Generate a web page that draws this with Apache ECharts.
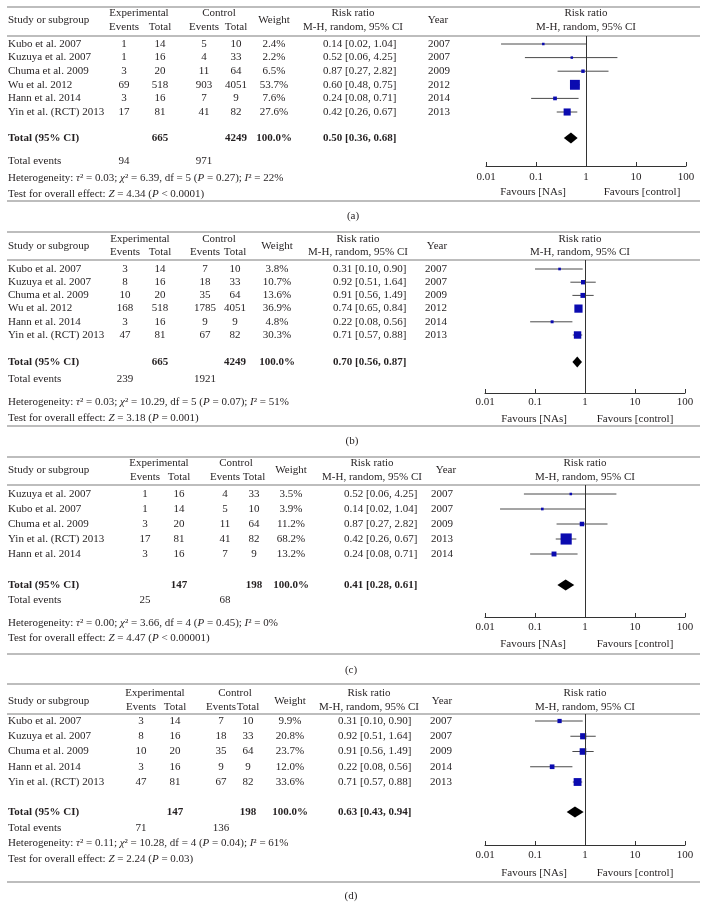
<!DOCTYPE html>
<html>
<head>
<meta charset="utf-8">
<script src="https://cdn.jsdelivr.net/npm/echarts@6/dist/echarts.min.js"></script>
<style>html,body{margin:0;background:#fff}#main{width:702px;height:919px}</style>
</head>
<body>
<div id="main"></div>
<script>
var tickLabels=['0.01','0.1','1','10','100'];

// (a)
var studiesA=['Kubo et al. 2007','Kuzuya et al. 2007','Chuma et al. 2009','Wu et al. 2012','Hann et al. 2014','Yin et al. (RCT) 2013'];
var expEventsA=[1,1,3,69,3,17];
var expTotalA=[14,16,20,518,16,81];
var ctlEventsA=[5,4,11,903,7,41];
var ctlTotalA=[10,33,64,4051,9,82];
var weightA=[2.4,2.2,6.5,53.7,7.6,27.6];
var rrA=[0.14,0.52,0.87,0.60,0.24,0.42];
var loA=[0.02,0.06,0.27,0.48,0.08,0.26];
var hiA=[1.04,4.25,2.82,0.75,0.71,0.67];
var yearA=[2007,2007,2009,2012,2014,2013];
var totalA=[665,4249,0.50,0.36,0.68,94,971];
var hetA=['0.03','6.39',5,'0.27',22,'4.34','< 0.0001'];

// (b)
var studiesB=['Kubo et al. 2007','Kuzuya et al. 2007','Chuma et al. 2009','Wu et al. 2012','Hann et al. 2014','Yin et al. (RCT) 2013'];
var expEventsB=[3,8,10,168,3,47];
var expTotalB=[14,16,20,518,16,81];
var ctlEventsB=[7,18,35,1785,9,67];
var ctlTotalB=[10,33,64,4051,9,82];
var weightB=[3.8,10.7,13.6,36.9,4.8,30.3];
var rrB=[0.31,0.92,0.91,0.74,0.22,0.71];
var loB=[0.10,0.51,0.56,0.65,0.08,0.57];
var hiB=[0.90,1.64,1.49,0.84,0.56,0.88];
var yearB=[2007,2007,2009,2012,2014,2013];
var totalB=[665,4249,0.70,0.56,0.87,239,1921];
var hetB=['0.03','10.29',5,'0.07',51,'3.18','= 0.001'];

// (c)
var studiesC=['Kuzuya et al. 2007','Kubo et al. 2007','Chuma et al. 2009','Yin et al. (RCT) 2013','Hann et al. 2014'];
var expEventsC=[1,1,3,17,3];
var expTotalC=[16,14,20,81,16];
var ctlEventsC=[4,5,11,41,7];
var ctlTotalC=[33,10,64,82,9];
var weightC=[3.5,3.9,11.2,68.2,13.2];
var rrC=[0.52,0.14,0.87,0.42,0.24];
var loC=[0.06,0.02,0.27,0.26,0.08];
var hiC=[4.25,1.04,2.82,0.67,0.71];
var yearC=[2007,2007,2009,2013,2014];
var totalC=[147,198,0.41,0.28,0.61,25,68];
var hetC=['0.00','3.66',4,'0.45',0,'4.47','< 0.00001'];

// (d)
var studiesD=['Kubo et al. 2007','Kuzuya et al. 2007','Chuma et al. 2009','Hann et al. 2014','Yin et al. (RCT) 2013'];
var expEventsD=[3,8,10,3,47];
var expTotalD=[14,16,20,16,81];
var ctlEventsD=[7,18,35,9,67];
var ctlTotalD=[10,33,64,9,82];
var weightD=[9.9,20.8,23.7,12.0,33.6];
var rrD=[0.31,0.92,0.91,0.22,0.71];
var loD=[0.10,0.51,0.56,0.08,0.57];
var hiD=[0.90,1.64,1.49,0.56,0.88];
var yearD=[2007,2007,2009,2014,2013];
var totalD=[147,198,0.63,0.43,0.94,71,136];
var hetD=['0.11','10.28',4,'0.04',61,'2.24','= 0.03'];

var FONT='"Liberation Serif","DejaVu Serif",serif';
var FS=11;
var INK='#231f20';

// page layout of each panel (pixels)
var panels=[
  {name:'(a)',studies:studiesA,ee:expEventsA,et:expTotalA,ce:ctlEventsA,ct:ctlTotalA,w:weightA,rr:rrA,lo:loA,hi:hiA,yr:yearA,tot:totalA,het:hetA,
   L:{top:7,h1:13,h2:27,hm:20,gridTop:36,row0:44,step:13.6,totalY:138,evY:161,hetY:178,testY:194,bottom:201,labelY:216,axisY:166,tickGap:6,favY:192,plotLeft:486},
   C:{ee:124,et:160,eh:139,ce:204,ct:236,ch:219,w:274,rrh:353,rr:323,yr:428,yrh:438,ph:586,favL:533,favR:642,label:353}},
  {name:'(b)',studies:studiesB,ee:expEventsB,et:expTotalB,ce:ctlEventsB,ct:ctlTotalB,w:weightB,rr:rrB,lo:loB,hi:hiB,yr:yearB,tot:totalB,het:hetB,
   L:{top:232,h1:239,h2:252,hm:246,gridTop:260,row0:269,step:13.2,totalY:362,evY:379,hetY:402,testY:418,bottom:426,labelY:441,axisY:393,tickGap:4,favY:419,plotLeft:485},
   C:{ee:125,et:160,eh:140,ce:205,ct:235,ch:219,w:277,rrh:358,rr:333,yr:425,yrh:437,ph:580,favL:534,favR:635,label:352}},
  {name:'(c)',studies:studiesC,ee:expEventsC,et:expTotalC,ce:ctlEventsC,ct:ctlTotalC,w:weightC,rr:rrC,lo:loC,hi:hiC,yr:yearC,tot:totalC,het:hetC,
   L:{top:457,h1:463,h2:477,hm:470,gridTop:485,row0:494,step:15,totalY:585,evY:600,hetY:623,testY:638,bottom:654,labelY:670,axisY:617,tickGap:5,favY:644,plotLeft:485},
   C:{ee:145,et:179,eh:159,ce:225,ct:254,ch:236,w:291,rrh:372,rr:344,yr:431,yrh:446,ph:585,favL:533,favR:635,label:351}},
  {name:'(d)',studies:studiesD,ee:expEventsD,et:expTotalD,ce:ctlEventsD,ct:ctlTotalD,w:weightD,rr:rrD,lo:loD,hi:hiD,yr:yearD,tot:totalD,het:hetD,
   L:{top:684,h1:693,h2:707,hm:701,gridTop:714,row0:721,step:15.25,totalY:812,evY:828,hetY:843,testY:859,bottom:882,labelY:896,axisY:845,tickGap:5,favY:873,plotLeft:485},
   C:{ee:141,et:175,eh:155,ce:221,ct:248,ch:235,w:290,rrh:369,rr:338,yr:430,yrh:442,ph:585,favL:534,favR:635,label:351}}
];

var graphics=[];
var richIt={i:{fontStyle:'italic',fontFamily:FONT,fontSize:FS,fill:INK,color:INK}};
function txt(s,x,y,align,bold){
  graphics.push({type:'text',silent:true,style:{text:String(s),x:x,y:y,fill:INK,
    font:(bold?'bold ':'')+FS+'px '+FONT,fontFamily:FONT,fontSize:FS,fontWeight:bold?'bold':'normal',
    align:align||'center',textAlign:align||'center',verticalAlign:'middle',textVerticalAlign:'middle',rich:richIt}});
}
function rule(y){
  graphics.push({type:'line',silent:true,shape:{x1:7,y1:y,x2:700,y2:y},style:{stroke:'#7c7c7c',lineWidth:1.2}});
}
function ci(r,l,h){return r.toFixed(2)+' ['+l.toFixed(2)+', '+h.toFixed(2)+']';}

var grids=[],xAxes=[],yAxes=[],series=[];

panels.forEach(function(p,k){
  var L=p.L,C=p.C;
  // rules
  rule(L.top);rule(L.gridTop);rule(L.bottom);
  // header
  txt('Study or subgroup',8,L.hm,'left');
  txt('Experimental',C.eh,L.h1);txt('Events',C.ee,L.h2);txt('Total',C.et,L.h2);
  txt('Control',C.ch,L.h1);txt('Events',C.ce,L.h2);txt('Total',C.ct,L.h2);
  txt('Weight',C.w,L.hm);
  txt('Risk ratio',C.rrh,L.h1);txt('M-H, random, 95% CI',C.rrh,L.h2);
  txt('Year',C.yrh,L.hm);
  txt('Risk ratio',C.ph,L.h1);txt('M-H, random, 95% CI',C.ph,L.h2);
  // study rows
  p.studies.forEach(function(s,i){
    var y=L.row0+i*L.step;
    txt(s,8,y,'left');
    txt(p.ee[i],C.ee,y);txt(p.et[i],C.et,y);
    txt(p.ce[i],C.ce,y);txt(p.ct[i],C.ct,y);
    txt(p.w[i].toFixed(1)+'%',C.w,y);
    txt(ci(p.rr[i],p.lo[i],p.hi[i]),C.rr,y,'left');
    txt(p.yr[i],C.yr,y,'left');
  });
  // totals
  var t=p.tot;
  txt('Total (95% CI)',8,L.totalY,'left',true);
  txt(t[0],C.et,L.totalY,'center',true);
  txt(t[1],C.ct,L.totalY,'center',true);
  txt('100.0%',C.w,L.totalY,'center',true);
  txt(ci(t[2],t[3],t[4]),C.rr,L.totalY,'left',true);
  txt('Total events',8,L.evY,'left');
  txt(t[5],C.ee,L.evY);txt(t[6],C.ce,L.evY);
  var h=p.het;
  txt('Heterogeneity: {i|τ}² = '+h[0]+'; {i|χ}² = '+h[1]+', df = '+h[2]+' ({i|P} = '+h[3]+'); {i|I}² = '+h[4]+'%',8,L.hetY,'left');
  txt('Test for overall effect: {i|Z} = '+h[5]+' ({i|P} '+h[6]+')',8,L.testY,'left');
  txt('Favours [NAs]',C.favL,L.favY);
  txt('Favours [control]',C.favR,L.favY);
  txt(p.name,C.label,L.labelY);

  // plot
  grids.push({left:L.plotLeft,width:200,top:L.gridTop,height:L.axisY-L.gridTop});
  xAxes.push({gridIndex:k,type:'log',logBase:10,min:0.01,max:100,splitNumber:4,position:'bottom',
    axisLine:{onZero:false,lineStyle:{color:'#333',width:1}},
    axisTick:{inside:true,length:4,lineStyle:{color:'#333'}},
    splitLine:{show:false},
    axisLabel:{margin:L.tickGap,fontFamily:FONT,fontSize:FS,color:INK,showMinLabel:true,showMaxLabel:true,
      formatter:function(v){return tickLabels[Math.round(Math.log10(v))+2];}}});
  yAxes.push({gridIndex:k,type:'value',inverse:true,show:false,
    min:-(L.row0-L.gridTop)/L.step,max:(L.axisY-L.row0)/L.step});

  var data=p.rr.map(function(v,i){return [v,p.lo[i],p.hi[i],i,p.w[i]];});
  series.push({type:'custom',xAxisIndex:k,yAxisIndex:k,clip:false,data:data,encode:{x:[0,1,2],y:3},
    renderItem:function(params,api){
      var row=api.value(3);
      var c=api.coord([api.value(0),row]);
      var a=api.coord([api.value(1),row]);
      var b=api.coord([api.value(2),row]);
      var s=Math.max(2.5,1.35*Math.sqrt(api.value(4)));
      return {type:'group',children:[
        {type:'line',shape:{x1:a[0],y1:c[1],x2:b[0],y2:c[1]},style:{stroke:'#4a4a4a',lineWidth:1}},
        {type:'rect',shape:{x:c[0]-s/2,y:c[1]-s/2,width:s,height:s},style:{fill:'#0b0bb0'}}
      ]};
    },
    markLine:{silent:true,symbol:'none',label:{show:false},lineStyle:{color:'#333',width:1,type:'solid'},data:[{xAxis:1}]}
  });
  series.push({type:'custom',xAxisIndex:k,yAxisIndex:k,clip:false,
    data:[[t[2],t[3],t[4],(L.totalY-L.row0)/L.step]],encode:{x:[0,1,2],y:3},
    renderItem:function(params,api){
      var row=api.value(3);
      var c=api.coord([api.value(0),row]);
      var a=api.coord([api.value(1),row]);
      var b=api.coord([api.value(2),row]);
      var hh=5.5;
      return {type:'polygon',shape:{points:[[a[0],c[1]],[c[0],c[1]-hh],[b[0],c[1]],[c[0],c[1]+hh]]},style:{fill:'#000'}};
    }
  });
});

var chart=echarts.init(document.getElementById('main'),null,{renderer:'canvas'});
chart.setOption({
  animation:false,
  backgroundColor:'#fff',
  grid:grids,
  xAxis:xAxes,
  yAxis:yAxes,
  series:series,
  graphic:{elements:graphics}
});
</script>
</body>
</html>
